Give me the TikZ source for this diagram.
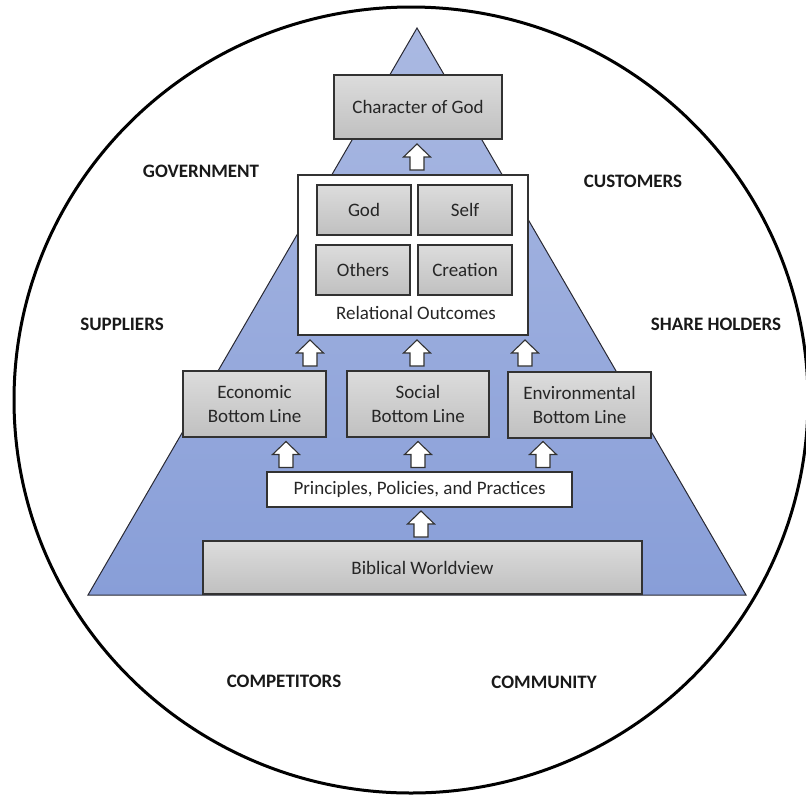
\documentclass[tikz,border=0pt]{standalone}
\usepackage{fontspec}
\setmainfont{Carlito}
\usetikzlibrary{calc}

\definecolor{pyrtop}{RGB}{170,185,226}
\definecolor{pyrbot}{RGB}{136,158,216}
\definecolor{pyredge}{RGB}{40,40,50}
\definecolor{boxtop}{RGB}{220,220,220}
\definecolor{boxbot}{RGB}{192,192,192}
\definecolor{boxedge}{RGB}{50,50,50}
\definecolor{txt}{RGB}{38,38,38}

\tikzset{
  boxtext/.style={font=\fontsize{19}{24}\selectfont, text=txt, align=center},
  graybox/.style={draw=boxedge, line width=1.3pt, top color=boxtop, bottom color=boxbot,
                  inner sep=0pt, boxtext},
  whitebox/.style={draw=boxedge, line width=1.3pt, fill=white, inner sep=0pt, boxtext},
  stakeholder/.style={font=\fontsize{19}{22}\selectfont\bfseries, text=black!90},
  arrowline/.style={draw=boxedge, line width=1.1pt, fill=white, line join=miter},
  pics/uparrow/.style={code={
    \path[arrowline] (-7,13) -- (-7,0) -- (-13.5,0) -- (0,-13) -- (13.5,0)
                     -- (7,0) -- (7,13) -- cycle;}}
}

\begin{document}
\begin{tikzpicture}[x=1pt,y=-1pt]
\useasboundingbox (0,0) rectangle (806,796);
\begin{scope}
\clip (0,0) rectangle (806,796);

% surrounding stakeholder circle
\draw[line width=3pt] (411,400) ellipse [x radius=397, y radius=393];

% pyramid
\shade[top color=pyrtop, bottom color=pyrbot] (417,28) -- (746,595) -- (88,595) -- cycle;
\draw[pyredge, line width=1pt, line join=miter] (417,28) -- (746,595) -- (88,595) -- cycle;

% stakeholders around the pyramid
\node[stakeholder] (gov)  at (201,171) {GOVERNMENT};
\node[stakeholder] (cust) at (633,181) {CUSTOMERS};
\node[stakeholder] (supp) at (122,324) {SUPPLIERS};
\node[stakeholder] (share) at (716,324) {SHARE HOLDERS};
\node[stakeholder] (comp) at (284,681) {COMPETITORS};
\node[stakeholder] (comm) at (544,682) {COMMUNITY};

% levels of the pyramid
\node[graybox, minimum width=168, minimum height=64] (god) at (418,107) {Character of God};

\node[whitebox, minimum width=230, minimum height=160] (rel) at (413,255) {};
\node[graybox, minimum width=94, minimum height=50] (rgod)   at (364,210) {God};
\node[graybox, minimum width=94, minimum height=50] (rself)  at (465,210) {Self};
\node[graybox, minimum width=94, minimum height=50] (roth)   at (363,270) {Others};
\node[graybox, minimum width=94, minimum height=50] (rcre)   at (465,270) {Creation};
\node[boxtext] (rlabel) at (416,313) {Relational Outcomes};

\node[graybox, minimum width=143, minimum height=66] (econ) at (254.5,404) {Economic\\Bottom Line};
\node[graybox, minimum width=142, minimum height=66] (soc)  at (418,404) {Social\\Bottom Line};
\node[graybox, minimum width=143, minimum height=66] (env)  at (579.5,405) {Environmental\\Bottom Line};

\node[whitebox, minimum width=305, minimum height=35] (ppp) at (419.5,489.5) {Principles, Policies, and Practices};

\node[graybox, minimum width=439, minimum height=53] (bw) at (422.5,567.5) {Biblical Worldview};

% upward block arrows between levels (x set per arrow, y halfway between levels)
\path let \p1 = ($(god.south)!0.5!(rel.north)$) in pic (a0) at (417,\y1) {uparrow};
\path let \p1 = ($(rel.south)!0.5!(soc.north)$) in
  pic (a1) at (310,\y1) {uparrow}
  pic (a2) at (417,\y1) {uparrow}
  pic (a3) at (525,\y1) {uparrow};
\path let \p1 = ($(soc.south)!0.5!(ppp.north)$) in
  pic (a4) at (286,\y1) {uparrow}
  pic (a5) at (418,\y1) {uparrow}
  pic (a6) at (543,\y1) {uparrow};
\path let \p1 = ($(ppp.south)!0.5!(bw.north)$) in pic (a7) at (421,\y1) {uparrow};
\end{scope}
\end{tikzpicture}
\end{document}
